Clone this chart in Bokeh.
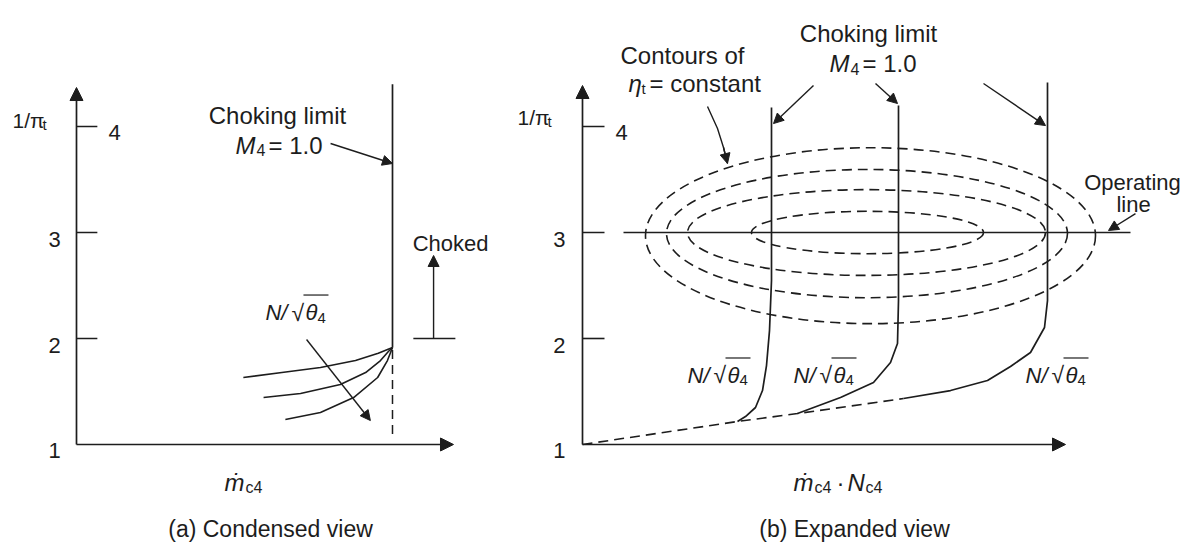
from bokeh.plotting import figure
from bokeh.layouts import row
from bokeh.models import Arrow, NormalHead, Range1d
from bokeh.core.properties import value
from bokeh.embed import file_html
from bokeh.resources import INLINE

INK = "#1d1d1d"
FONT = value("Liberation Sans")
DASH = "10 6"

# ---- vertical scale shared by both views: 1/pi_t
Y_LO, Y_HI = 0.047, 5.189
y_ticks = [2, 3, 4]
y_tick_labels = ["2", "3", "4"]
origin_label = "1"

# ---- (a) condensed view: corrected flow normalised by its choking value
A_LO, A_HI = -0.2405, 1.3576
a_xaxis_end = 1.193
a_yaxis_end = 4.368
choke_flow_a = 1.0
choke_top_a = 4.40
choke_knee_a = 1.915
choke_dash_end_a = 1.10
speed_a_x = [[0.528, 0.65, 0.772, 0.883, 0.955, 1.0],
             [0.592, 0.709, 0.835, 0.915, 0.962, 0.987, 1.0],
             [0.661, 0.772, 0.877, 0.953, 0.984, 1.0]]
speed_a_y = [[1.632, 1.679, 1.726, 1.792, 1.86, 1.915],
             [1.443, 1.481, 1.566, 1.679, 1.792, 1.877, 1.915],
             [1.236, 1.302, 1.443, 1.632, 1.792, 1.915]]
choked_level = 2.0
choked_top = 2.783
choked_x = 1.130
choked_bar = [1.066, 1.199]

# ---- (b) expanded view: corrected flow x corrected speed
B_LO, B_HI = -0.77, 6.05
b_xaxis_end = 4.83
b_yaxis_end = 4.387
speed_b_x = [[1.89, 1.89, 1.87, 1.84, 1.80, 1.73, 1.63, 1.55],
             [3.16, 3.16, 3.15, 3.08, 2.91, 2.58, 2.15],
             [4.65, 4.65, 4.62, 4.48, 4.28, 4.05, 3.68, 3.21]]
speed_b_y = [[4.179, 2.547, 2.075, 1.745, 1.509, 1.349, 1.264, 1.217],
             [4.198, 2.358, 1.953, 1.774, 1.585, 1.443, 1.292],
             [4.415, 2.358, 2.104, 1.868, 1.736, 1.604, 1.509, 1.434]]
locus_x = [0.0, 1.55, 2.15, 3.21]
locus_y = [1.0, 1.217, 1.292, 1.434]
op_line_y = 3.0
op_line_x = [0.41, 5.48]
eff_x = [2.88, 2.845, 2.84, 2.85]
eff_y = [2.97, 2.99, 3.0, 3.0]
eff_w = [4.50, 4.01, 3.58, 2.32]
eff_h = [1.66, 1.21, 0.81, 0.40]


def make_panel(width, x_lo, x_hi):
    p = figure(width=width, height=545, x_range=Range1d(x_lo, x_hi),
               y_range=Range1d(Y_LO, Y_HI), output_backend="svg",
               toolbar_location=None, x_axis_type=None, y_axis_type=None,
               min_border=0, outline_line_color=None,
               background_fill_color="white", border_fill_color="white")
    p.grid.visible = False
    return p


def text(p, x, y, s, size=24, style="normal", align="left",
         baseline="alphabetic", dx=0, dy=0):
    p.text(x=[x], y=[y], text=[s], text_font=FONT, text_font_size=f"{size}px",
           text_font_style=style, text_align=align, text_baseline=baseline,
           x_offset=dx, y_offset=dy, text_color=INK)


def rich(p, x, y, parts):
    # parts: (string, x offset px, y offset px, font size px, style)
    for s, dx, dy, fs, st in parts:
        text(p, x, y, s, size=fs, style=st, dx=dx, dy=dy)


def px_scale(p):
    kx = p.width / (p.x_range.end - p.x_range.start)
    ky = p.height / (p.y_range.end - p.y_range.start)
    return kx, ky


def speed_label(p, x, y):
    rich(p, x, y, [("N/", 0, 0, 22, "italic"),
                   ("\u221a", 26, 0, 23, "normal"),
                   ("\u03b8", 40, 0, 22, "italic"),
                   ("4", 52, 5, 15, "normal")])
    kx, ky = px_scale(p)
    yy = y + 17.5 / ky
    p.segment(x0=[x + 38 / kx], y0=[yy], x1=[x + 63 / kx], y1=[yy],
              line_color=INK, line_width=1.2)


def arrow(p, x0, y0, x1, y1, size=10, lw=1.4):
    p.add_layout(Arrow(end=NormalHead(size=size, fill_color=INK, line_color=INK,
                                      line_width=1),
                       x_start=x0, y_start=y0, x_end=x1, y_end=y1,
                       line_color=INK, line_width=lw))


def axes(p, x_end, y_end, tick_len, tick_x_left, four_x):
    arrow(p, 0, 1, x_end, 1, size=13, lw=1.7)
    arrow(p, 0, 1, 0, y_end, size=13, lw=1.7)
    p.segment(x0=[0] * len(y_ticks), y0=y_ticks, x1=[tick_len] * len(y_ticks),
              y1=y_ticks, line_color=INK, line_width=1.6)
    for v, lab in zip(y_ticks, y_tick_labels):
        if v == 4:
            text(p, four_x, v, lab, size=22, baseline="middle", dy=6)
        else:
            text(p, tick_x_left, v, lab, size=22, align="right",
                 baseline="middle", dy=7)
    text(p, tick_x_left, 1, origin_label, size=22, align="right",
         baseline="middle", dy=6)


# ======================= (a) condensed view =======================
pa = make_panel(505, A_LO, A_HI)
axes(pa, a_xaxis_end, a_yaxis_end, 0.066, -0.05, 0.101)
rich(pa, -0.2025, 4.057, [("1/\u03c0", 0, 0, 21, "normal"), ("t", 30, 4, 15, "normal")])

pa.line([choke_flow_a, choke_flow_a], [choke_knee_a, choke_top_a],
        line_color=INK, line_width=1.7)
pa.line([choke_flow_a, choke_flow_a], [choke_dash_end_a, choke_knee_a],
        line_color=INK, line_width=1.5, line_dash="9 6")
for xs, ys in zip(speed_a_x, speed_a_y):
    pa.line(xs, ys, line_color=INK, line_width=1.6)

text(pa, 0.636, 4.104, "Choking limit", align="center")
rich(pa, 0.503, 3.821, [("M", 0, 0, 24, "italic"), ("4", 21, 5, 16, "normal"),
                        ("= 1.0", 33, 0, 24, "normal")])
arrow(pa, 0.804, 3.840, choke_flow_a, 3.651)

# choked region marker
pa.segment(x0=[choked_bar[0]], y0=[choked_level], x1=[choked_bar[1]],
           y1=[choked_level], line_color=INK, line_width=1.6)
arrow(pa, choked_x, choked_level, choked_x, choked_top, size=11)
text(pa, 1.184, 2.896, "Choked", size=22, align="center")

speed_label(pa, 0.598, 2.245)
arrow(pa, 0.728, 1.991, 0.930, 1.226)

rich(pa, 0.468, 0.642, [("\u1e41", 0, 0, 24, "italic"), ("c4", 21, 5, 16, "normal")])
text(pa, 0.614, 0.198, "(a) Condensed view", size=23, align="center",
     baseline="middle")

# ======================= (b) expanded view =======================
pb = make_panel(682, B_LO, B_HI)
axes(pb, b_xaxis_end, b_yaxis_end, 0.22, -0.17, 0.33)
rich(pb, -0.65, 4.085, [("1/\u03c0", 0, 0, 21, "normal"), ("t", 30, 4, 15, "normal")])

pb.ellipse(x=eff_x, y=eff_y, width=eff_w, height=eff_h, fill_color=None,
           line_color=INK, line_width=1.6, line_dash=DASH)
pb.line(op_line_x, [op_line_y, op_line_y], line_color=INK, line_width=1.6)
pb.line(locus_x, locus_y, line_color=INK, line_width=1.6, line_dash=DASH)
for xs, ys in zip(speed_b_x, speed_b_y):
    pb.line(xs, ys, line_color=INK, line_width=1.7)

text(pb, 2.86, 4.877, "Choking limit", align="center")
rich(pb, 2.47, 4.594, [("M", 0, 0, 24, "italic"), ("4", 21, 5, 16, "normal"),
                       ("= 1.0", 33, 0, 24, "normal")])
arrow(pb, 2.31, 4.387, 1.91, 4.028)
arrow(pb, 2.93, 4.406, 3.15, 4.217)
arrow(pb, 4.01, 4.406, 4.63, 4.009)

text(pb, 1.0, 4.670, "Contours of", align="center")
rich(pb, 0.46, 4.406, [("\u03b7", 0, 0, 24, "italic"), ("t", 13, 5, 15, "normal"),
                       ("= constant", 21, 0, 24, "normal")])
hook_x = [1.25, 1.35, 1.41, 1.45]
hook_y = [4.189, 3.981, 3.802, 3.651]
pb.line(hook_x, hook_y, line_color=INK, line_width=1.4)
arrow(pb, hook_x[-2], hook_y[-2], hook_x[-1], hook_y[-1])

text(pb, 5.50, 3.472, "Operating", size=22, align="center")
text(pb, 5.51, 3.264, "line", size=22, align="center")
arrow(pb, 5.53, 3.179, 5.26, 3.019)

for sx in [1.05, 2.11, 4.43]:
    speed_label(pb, sx, 1.651)

rich(pb, 2.11, 0.642, [("\u1e41", 0, 0, 24, "italic"), ("c4", 21, 5, 16, "normal"),
                       ("\u00b7", 43, 0, 24, "normal"), ("N", 54, 0, 24, "italic"),
                       ("c4", 72, 5, 16, "normal")])
text(pb, 2.72, 0.198, "(b) Expanded view", size=23, align="center",
     baseline="middle")

layout = row(pa, pb)
open("out.html", "w").write(file_html(layout, INLINE))
